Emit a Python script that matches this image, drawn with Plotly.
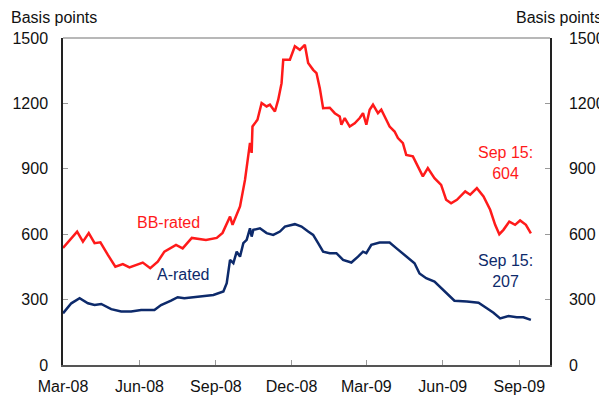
# Spreads de bonos corporativos: BB-rated vs A-rated (puntos básicos)

import plotly.graph_objects as go

FUENTE = 'Liberation Sans, Arial, sans-serif'
ROJO = '#ff1a1a'
AZUL = '#0d2a6b'

# BB-rated
fechas_bb = [
    '2008-03-01', '2008-03-18', '2008-03-25', '2008-04-01', '2008-04-08', '2008-04-15',
    '2008-04-24', '2008-05-03', '2008-05-12', '2008-05-20', '2008-06-05', '2008-06-14',
    '2008-06-23', '2008-07-01', '2008-07-15', '2008-07-23', '2008-08-03', '2008-08-20',
    '2008-09-02', '2008-09-09', '2008-09-18', '2008-09-21', '2008-09-30', '2008-10-06',
    '2008-10-12', '2008-10-14', '2008-10-15', '2008-10-21', '2008-10-26', '2008-11-01',
    '2008-11-05', '2008-11-11', '2008-11-15', '2008-11-19', '2008-11-21', '2008-11-29',
    '2008-12-05', '2008-12-11', '2008-12-17', '2008-12-21', '2008-12-27', '2008-12-31',
    '2009-01-04', '2009-01-08', '2009-01-16', '2009-01-22', '2009-01-28', '2009-01-30',
    '2009-02-03', '2009-02-09', '2009-02-15', '2009-02-21', '2009-02-25', '2009-03-01',
    '2009-03-05', '2009-03-09', '2009-03-15', '2009-03-19', '2009-03-25', '2009-03-29',
    '2009-04-04', '2009-04-08', '2009-04-14', '2009-04-18', '2009-04-26', '2009-05-02',
    '2009-05-08', '2009-05-14', '2009-05-22', '2009-05-30', '2009-06-05', '2009-06-11',
    '2009-06-18', '2009-06-28', '2009-07-04', '2009-07-12', '2009-07-20', '2009-07-28',
    '2009-08-03', '2009-08-08', '2009-08-13', '2009-08-20', '2009-08-27', '2009-09-02',
    '2009-09-09', '2009-09-15',
]
valores_bb = [
    537, 612, 566, 605, 559, 563,
    505, 451, 463, 448, 470, 444,
    474, 520, 551, 535, 583, 574,
    583, 606, 681, 643, 727, 849,
    1019, 973, 1094, 1125, 1202, 1186,
    1194, 1163, 1217, 1293, 1400, 1400,
    1462, 1446, 1469, 1385, 1354, 1339,
    1270, 1178, 1180, 1155, 1140, 1102,
    1133, 1094, 1109, 1133, 1155, 1102,
    1171, 1194, 1155, 1171, 1125, 1094,
    1071, 1041, 1018, 964, 957, 911,
    865, 903, 857, 826, 758, 742,
    758, 796, 781, 811, 773, 712,
    643, 600, 620, 658, 643, 663,
    643, 604,
]

# A-rated
fechas_a = [
    '2008-03-01', '2008-03-11', '2008-03-21', '2008-03-31', '2008-04-08', '2008-04-16',
    '2008-04-28', '2008-05-10', '2008-05-22', '2008-06-03', '2008-06-19', '2008-06-27',
    '2008-07-09', '2008-07-17', '2008-07-25', '2008-08-12', '2008-08-29', '2008-09-10',
    '2008-09-14', '2008-09-18', '2008-09-22', '2008-09-26', '2008-09-30', '2008-10-04',
    '2008-10-08', '2008-10-12', '2008-10-14', '2008-10-16', '2008-10-24', '2008-11-01',
    '2008-11-09', '2008-11-17', '2008-11-23', '2008-12-05', '2008-12-13', '2008-12-21',
    '2008-12-27', '2009-01-02', '2009-01-08', '2009-01-16', '2009-01-24', '2009-02-01',
    '2009-02-11', '2009-02-19', '2009-02-25', '2009-03-01', '2009-03-07', '2009-03-17',
    '2009-03-29', '2009-04-06', '2009-04-18', '2009-04-28', '2009-05-04', '2009-05-12',
    '2009-05-22', '2009-05-28', '2009-06-07', '2009-06-15', '2009-06-30', '2009-07-14',
    '2009-07-24', '2009-08-01', '2009-08-09', '2009-08-19', '2009-08-29', '2009-09-06',
    '2009-09-15',
]
valores_a = [
    237, 283, 306, 283, 275, 280,
    256, 245, 245, 252, 252, 275,
    295, 311, 306, 314, 321, 337,
    375, 482, 467, 520, 497, 559,
    574, 627, 589, 620, 627, 605,
    597, 612, 635, 646, 635, 612,
    597, 559, 520, 513, 513, 482,
    470, 497, 520, 513, 551, 562,
    562, 536, 497, 467, 420, 398,
    383, 360, 321, 295, 291, 286,
    260, 240, 214, 225, 219, 219,
    207,
]

fig = go.Figure()
fig.add_trace(go.Scatter(x=fechas_bb, y=valores_bb, mode='lines',
                         line=dict(color=ROJO, width=2.5), showlegend=False))
fig.add_trace(go.Scatter(x=fechas_a, y=valores_a, mode='lines',
                         line=dict(color=AZUL, width=2.5), showlegend=False))
# traza invisible para que se dibuje el eje derecho
fig.add_trace(go.Scatter(x=[fechas_a[0]], y=[0], yaxis='y2', mode='markers',
                         marker=dict(opacity=0), showlegend=False, hoverinfo='skip'))

ejes_y = dict(range=[0, 1500], dtick=300, showgrid=False, zeroline=False,
              showline=True, linecolor='#222222', linewidth=1.5,
              ticks='inside', ticklen=5, tickcolor='#999999', automargin=False,
              tickfont=dict(size=16, color='#111111', family=FUENTE))

# la página añade ~8px de margen al cuerpo: se descuenta aquí
fig.update_layout(
    width=599, height=397,
    margin=dict(l=55, r=57, t=30, b=40),
    paper_bgcolor='white', plot_bgcolor='white',
    font=dict(family=FUENTE, size=16, color='#111111'),
    xaxis=dict(range=['2008-03-01', '2009-10-08'], tick0='2008-03-01', dtick='M3',
               tickformat='%b-%y', showgrid=False, zeroline=False,
               showline=True, linecolor='#555555', linewidth=1.5,
               ticks='inside', ticklen=5, tickcolor='#999999',
               ticklabelstandoff=6, automargin=False,
               tickfont=dict(size=16, color='#111111', family=FUENTE)),
    yaxis=dict(**ejes_y, ticklabelstandoff=10),
    yaxis2=dict(**ejes_y, overlaying='y', side='right', ticklabelstandoff=14),
    shapes=[dict(type='line', xref='paper', yref='paper', x0=0, x1=1, y0=1, y1=1,
                 line=dict(color='#a0a0a0', width=1.5))],
)

notas = [
    dict(x=0.0, xanchor='left', xshift=-54),
    dict(x=1.0, xanchor='right', xshift=54),
]
for n in notas:
    fig.add_annotation(x=n['x'], y=1.03, xref='paper', yref='paper', xanchor=n['xanchor'],
                       yanchor='bottom', xshift=n['xshift'], text='Basis points', showarrow=False,
                       font=dict(size=16, color='#111111', family=FUENTE))

etiquetas = [
    ('2008-07-06', 655, 'BB-rated', ROJO),
    ('2008-07-23', 415, 'A-rated', AZUL),
    ('2009-08-16', 925, 'Sep 15:<br>604', ROJO),
    ('2009-08-16', 430, 'Sep 15:<br>207', AZUL),
]
for fx, fy, texto, color in etiquetas:
    fig.add_annotation(x=fx, y=fy, text=texto, showarrow=False, align='center',
                       font=dict(size=16, color=color, family=FUENTE))

fig.write_html('out.html')
